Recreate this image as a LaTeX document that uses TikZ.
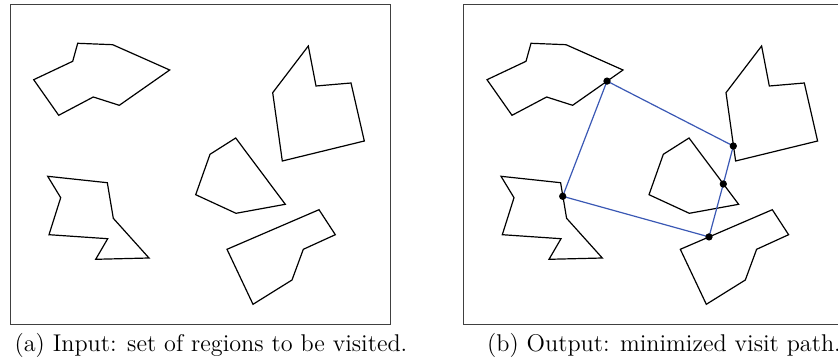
\documentclass[tikz,border=0pt]{standalone}
\usetikzlibrary{positioning}

\definecolor{pathblue}{RGB}{58,88,180}

\tikzset{
  frame/.style={draw=black!75, line width=0.5pt},
  region/.style={draw=black, line width=0.6pt, line join=miter},
  visit/.style={draw=pathblue, line width=0.6pt},
  caption/.style={font=\fontsize{12.1}{14}\selectfont, anchor=base}
}

% the five regions, drawn in the current scope
\newcommand{\regionset}{
  \draw[region] (33.7,79.7) -- (72.7,61.3) -- (77.7,43.3) -- (112.7,44.7) -- (169.7,70) -- (119.3,105.3) -- (93.3,97) -- (58.7,115.3) -- cycle;
  \draw[region] (308.3,46) -- (316,86) -- (351,83) -- (364.3,141) -- (282.3,161) -- (272.7,92.7) -- cycle;
  \draw[region] (235.7,138) -- (285.3,204.3) -- (236,213.3) -- (195.7,194.7) -- (210,154.3) -- cycle;
  \draw[region] (47.7,176.3) -- (107.3,182.7) -- (113.3,218.3) -- (149,258) -- (95.7,259.3) -- (107.7,238.7) -- (49,234.7) -- (60.7,197.7) -- cycle;
  \draw[region] (227,249.3) -- (319,209.7) -- (335.3,234.7) -- (303.3,249.3) -- (292,280) -- (253,304.3) -- cycle;
}

\begin{document}
\begin{tikzpicture}[x=0.5pt, y=-0.5pt]
\useasboundingbox (0,0) rectangle (838,363);

\begin{scope}
  \draw[frame] (10.3,4.7) rectangle (390.7,324.3);
  \regionset
  \node[caption] (capa) at (211,351) {(a) Input: set of regions to be visited.};
\end{scope}

\begin{scope}[shift={(453.3,0)}]
  \draw[frame] (10.3,4.7) rectangle (390.7,324.3);
  \regionset
  \coordinate (p1) at (153.7,81.1);
  \coordinate (p2) at (280.0,146);
  \coordinate (p3) at (270.0,184);
  \coordinate (p4) at (255.7,236.9);
  \coordinate (p5) at (109.4,196.3);
  \draw[visit] (p1) -- (p2) -- (p3) -- (p4) -- (p5) -- cycle;
  \filldraw[black] (p1) circle (3.2);
  \filldraw[black] (p2) circle (3.2);
  \filldraw[black] (p3) circle (3.2);
  \filldraw[black] (p4) circle (3.2);
  \filldraw[black] (p5) circle (3.2);
  \node[caption] (capb) at (210.7,351) {(b) Output: minimized visit path.};
\end{scope}

\end{tikzpicture}
\end{document}
